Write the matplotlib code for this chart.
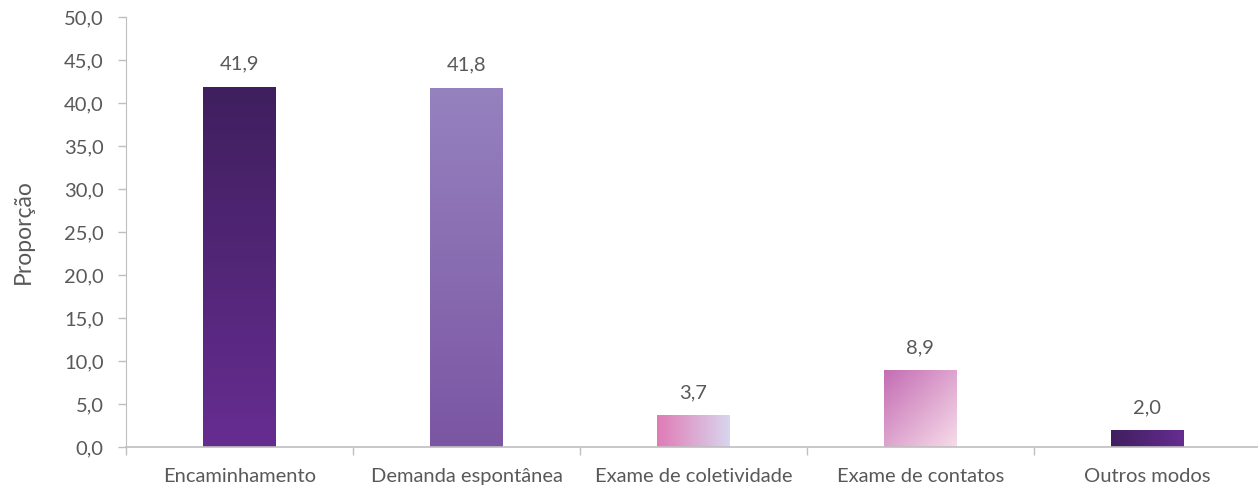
import numpy as np
import matplotlib.pyplot as plt
from matplotlib.colors import to_rgb

plt.rcParams['font.family'] = ['Lato', 'DejaVu Sans']

categorias = ['Encaminhamento', 'Demanda espontânea', 'Exame de coletividade',
              'Exame de contatos', 'Outros modos']
valores = [41.9, 41.8, 3.7, 8.9, 2.0]
rotulos = ['41,9', '41,8', '3,7', '8,9', '2,0']
yticks = [0, 5, 10, 15, 20, 25, 30, 35, 40, 45, 50]

# gradiente de cada barra: (cor inicial, cor final, direcao)
gradientes = [
    ('#3f1f5e', '#662d91', 'v'),   # topo -> base
    ('#9682bf', '#7b56a3', 'v'),
    ('#e07bb5', '#d8d6ee', 'h'),   # esquerda -> direita
    ('#c46db3', '#f7dcea', 'd'),   # diagonal
    ('#3f1f5e', '#662d91', 'h'),
]

cinza = '#595959'
linha = '#bfbfbf'

fig = plt.figure(figsize=(12.58, 4.88), dpi=100)
ax = fig.add_axes([0.1002, 0.084, 0.902, 0.881])

x = np.arange(len(categorias))
barras = ax.bar(x, valores, width=0.32, color='none', edgecolor='none', zorder=2)

n = 200
for b, (c0, c1, d) in zip(barras, gradientes):
    c0 = np.array(to_rgb(c0)); c1 = np.array(to_rgb(c1))
    ii, jj = np.meshgrid(np.linspace(0, 1, n), np.linspace(0, 1, n))
    if d == 'v':
        f = jj
    elif d == 'h':
        f = ii
    else:
        f = (ii + jj) / 2
    img = c0[None, None, :] * (1 - f[..., None]) + c1[None, None, :] * f[..., None]
    x0 = b.get_x(); x1 = x0 + b.get_width(); h = b.get_height()
    im = ax.imshow(img, extent=(x0, x1, 0, h), aspect='auto', origin='upper',
                   zorder=2, interpolation='bilinear')
    im.set_clip_path(b)

for xi, v, r in zip(x, valores, rotulos):
    ax.annotate(r, (xi, v), xytext=(0, 10), textcoords='offset points',
                ha='center', va='bottom', fontsize=14.5, color=cinza)

ax.set_xlim(-0.5, 4.5)
ax.set_ylim(0, 50)
ax.set_yticks(yticks)
ax.yaxis.set_major_formatter(plt.FuncFormatter(lambda v, p: ('%.1f' % v).replace('.', ',')))
ax.set_xticks(x)
ax.set_xticklabels(categorias)
ax.set_xticks(np.arange(-0.5, 5, 1), minor=True)
ax.tick_params(axis='x', which='major', length=0, pad=15, labelsize=14.5, labelcolor=cinza)
ax.tick_params(axis='x', which='minor', length=6, color=linha, width=1)
ax.tick_params(axis='y', length=6, color=linha, width=1, pad=10, labelsize=14.5, labelcolor=cinza)

for s in ['top', 'right']:
    ax.spines[s].set_visible(False)
ax.spines['left'].set_color(linha)
ax.spines['bottom'].set_color(linha)
ax.spines['bottom'].set_linewidth(1.2)

ax.set_ylabel('Proporção', fontsize=16.5, color=cinza, labelpad=22)

fig.savefig('out.png', dpi=100)
